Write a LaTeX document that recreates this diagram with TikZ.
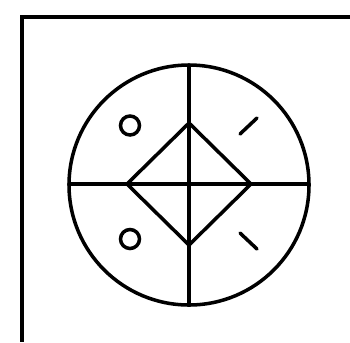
\documentclass[tikz,border=0pt]{standalone}
\begin{document}
\begin{tikzpicture}[x=0.02cm, y=-0.02cm, line width=2pt, line cap=round]
    \useasboundingbox (0,0) rectangle (350,342);
    % 外枠（右と下は切れている）
    \draw[line cap=butt, line width=2.3pt] (350,17) -- (22,17) -- (22,342);

    % 中心の座標
    \coordinate (c) at (189,185);

    % 大きな円と十字
    \draw (c) circle (120);
    \draw (c) ++(0,-120) coordinate (top) -- ++(0,240) coordinate (bot);
    \draw (c) ++(-120,-1) coordinate (lft) -- ++(240,0) coordinate (rgt);

    % 中央のひし形
    \draw[line join=round] (189,123) -- (251,184) -- (189,245) -- (127,184) -- cycle;

    % 左側の小さな円
    \foreach \y in {125.5,239}{
        \draw (130,\y) circle (9.5);
    }

    % 右側の短い線
    \draw (240,134) -- (257,118);
    \draw (240,233) -- (257,249);
\end{tikzpicture}
\end{document}
